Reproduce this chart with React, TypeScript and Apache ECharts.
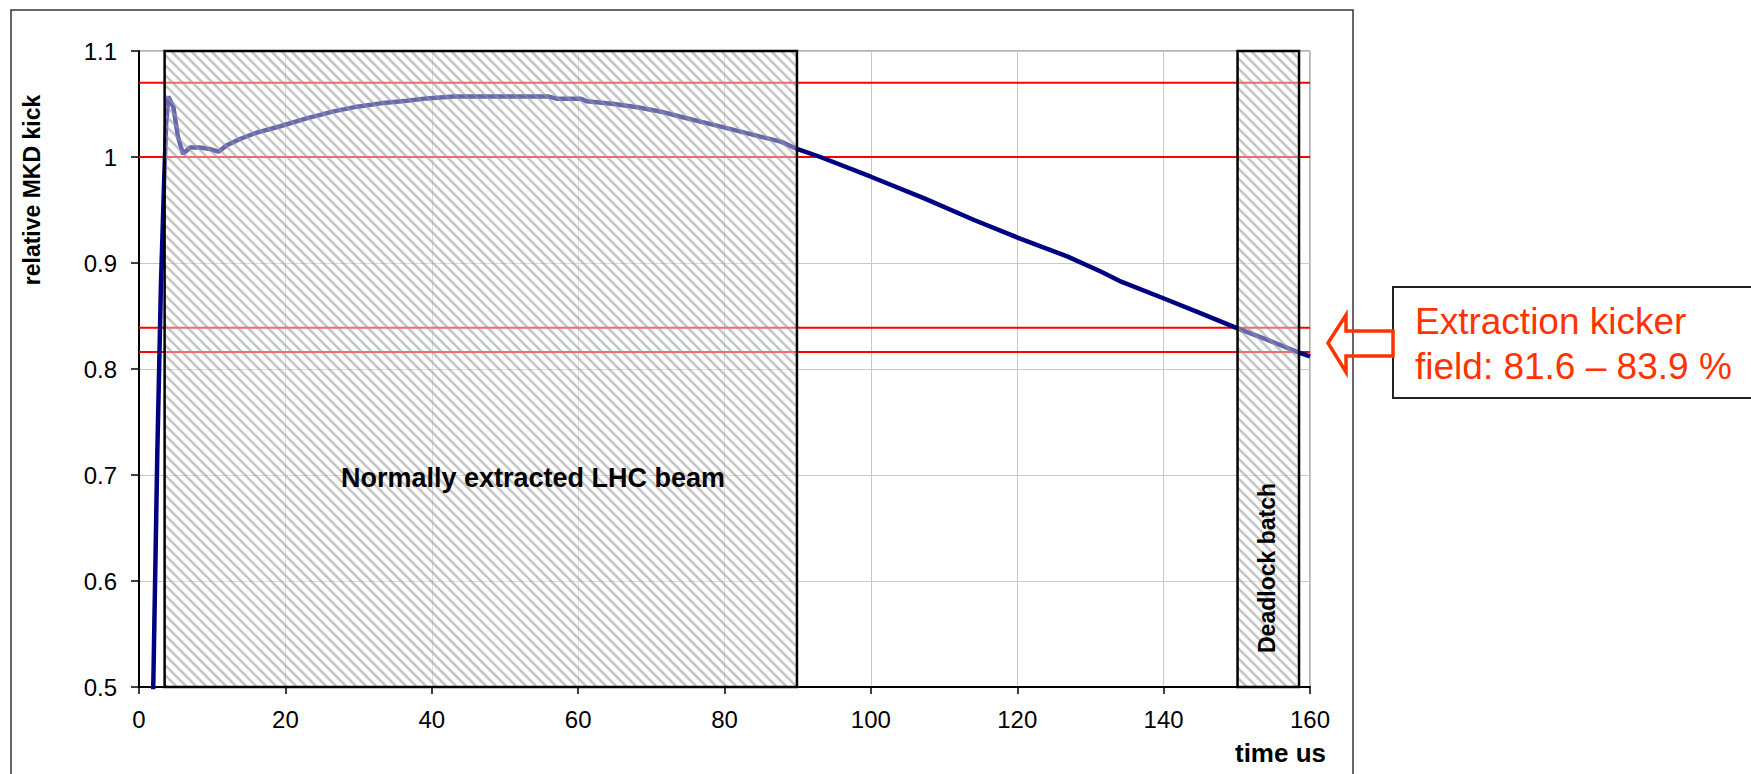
import React, { useEffect, useRef } from "react";
import * as echarts from "echarts";

// ---- data ----
const timeUs = [
  0.6, 2.0, 2.5, 3.0, 3.4, 3.7, 4.0, 4.7, 5.3, 6.0, 7.0, 8.3, 9.7, 10.85, 12.0, 13.8, 16.1, 19.3,
  22.9, 26.6, 29.8, 33.0, 36.6, 39.3, 43.0, 48.0, 52.6, 56.0, 57.1, 60.3, 61.2, 64.9, 68.1, 71.2,
  74.0, 79.5, 84.9, 87.7, 89.7, 93.1, 100, 107.3, 114.1, 120.3, 126.9, 131.4, 134.2, 140.3, 145.1,
  150.1, 154.2, 158.5, 160,
];
const relativeKick = [
  0.0, 0.52, 0.72, 0.88, 0.97, 1.03, 1.057, 1.047, 1.02, 1.003, 1.009, 1.009, 1.0075, 1.005, 1.011,
  1.017, 1.023, 1.029, 1.0365, 1.043, 1.0475, 1.0506, 1.053, 1.0553, 1.057, 1.057, 1.057, 1.057,
  1.055, 1.055, 1.0525, 1.05, 1.047, 1.043, 1.038, 1.0286, 1.0192, 1.0145, 1.0082, 1.0, 0.9814,
  0.961, 0.9406, 0.9233, 0.906, 0.892, 0.8824, 0.8658, 0.8525, 0.8384, 0.8274, 0.8154, 0.812,
];
const limitLevels = [1.07, 1.0, 0.839, 0.816];
const bandNames = ["Normally extracted LHC beam", "Deadlock batch"];
const bandStart = [3.5, 150.1];
const bandEnd = [89.9, 158.5];

const X_MIN = 0;
const X_MAX = 160;
const X_STEP = 20;
const Y_MIN = 0.5;
const Y_MAX = 1.1;
const Y_STEP = 0.1;

const FONT = '"Liberation Sans", Arial, sans-serif';

export default function App() {
  const ref = useRef<HTMLDivElement>(null);

  useEffect(() => {
    if (!ref.current) return;
    const chart = echarts.init(ref.current, undefined, { renderer: "svg" });

    const curve = timeUs.map((t, i) => [t, relativeKick[i]]);
    const limits = limitLevels.map((v) => [X_MIN, v]);
    const bands = bandStart.map((s, i) => [s, bandEnd[i]]);

    const option: any = {
      animation: false,
      backgroundColor: "#ffffff",
      grid: {
        left: 139,
        right: 441,
        top: 51,
        bottom: 87,
        show: true,
        borderColor: "#666666",
        borderWidth: 1,
        backgroundColor: "transparent",
      },
      xAxis: {
        type: "value",
        min: X_MIN,
        max: X_MAX,
        interval: X_STEP,
        axisLine: { show: true, onZero: false, lineStyle: { color: "#000", width: 2 } },
        axisTick: { show: true, inside: false, length: 7, lineStyle: { color: "#000", width: 1.5 } },
        axisLabel: { fontSize: 24, color: "#000", fontFamily: FONT, margin: 20 },
        splitLine: { show: true, lineStyle: { color: "#c8c8c8", width: 1 } },
      },
      yAxis: {
        type: "value",
        min: Y_MIN,
        max: Y_MAX,
        interval: Y_STEP,
        axisLine: { show: true, onZero: false, lineStyle: { color: "#000", width: 2 } },
        axisTick: { show: true, inside: false, length: 8, lineStyle: { color: "#000", width: 1.5 } },
        axisLabel: { fontSize: 24, color: "#000", fontFamily: FONT, margin: 22 },
        splitLine: { show: true, lineStyle: { color: "#c8c8c8", width: 1 } },
      },
      series: [
        {
          type: "custom",
          name: "limits",
          z: 1,
          silent: true,
          encode: { x: 0, y: 1 },
          data: limits,
          renderItem: (params: any, api: any) => {
            const v = api.value(1);
            const p0 = api.coord([X_MIN, v]);
            const p1 = api.coord([X_MAX, v]);
            return {
              type: "line",
              shape: { x1: p0[0], y1: p0[1], x2: p1[0], y2: p1[1] },
              style: { stroke: "#ff0000", lineWidth: 2 },
            };
          },
        },
        {
          type: "line",
          name: "relative MKD kick",
          z: 2,
          data: curve,
          showSymbol: false,
          symbol: "none",
          clip: true,
          lineStyle: { color: "#000080", width: 4.5 },
        },
        {
          type: "custom",
          name: "bands",
          z: 5,
          silent: true,
          clip: false,
          encode: { x: 0 },
          data: bands,
          renderItem: (params: any, api: any) => {
            const a = api.coord([api.value(0), Y_MAX]);
            const b = api.coord([api.value(1), Y_MIN]);
            const left = a[0];
            const top = a[1];
            const right = b[0];
            const bottom = b[1];
            const children: any[] = [];
            children.push({
              type: "rect",
              shape: { x: left, y: top, width: right - left, height: bottom - top },
              style: { fill: "rgba(255,255,255,0.4)" },
            });
            const step = 10;
            const c0 = Math.floor((top - right) / step) * step;
            for (let c = c0; c <= bottom - left; c += step) {
              const xa = Math.max(left, top - c);
              const xb = Math.min(right, bottom - c);
              if (xb > xa) {
                children.push({
                  type: "line",
                  shape: { x1: xa, y1: xa + c, x2: xb, y2: xb + c },
                  style: { stroke: "rgba(150,150,150,0.55)", lineWidth: 2.6 },
                });
              }
            }
            children.push({
              type: "rect",
              shape: { x: left, y: top, width: right - left, height: bottom - top },
              style: { fill: "none", stroke: "#000", lineWidth: 2.5 },
            });
            return { type: "group", children };
          },
        },
      ],
      graphic: [
        {
          type: "rect",
          z: 0,
          shape: { x: 11, y: 10, width: 1342, height: 800 },
          style: { fill: "none", stroke: "#333", lineWidth: 1.5 },
          silent: true,
        },
        {
          type: "text",
          x: 32,
          y: 190,
          rotation: Math.PI / 2,
          style: {
            text: "relative MKD kick",
            fontSize: 23,
            fontWeight: "bold",
            fontFamily: FONT,
            fill: "#000",
            align: "center",
            verticalAlign: "middle",
          },
        },
        {
          type: "text",
          x: 1326,
          y: 753,
          style: {
            text: "time us",
            fontSize: 26,
            fontWeight: "bold",
            fontFamily: FONT,
            fill: "#000",
            align: "right",
            verticalAlign: "middle",
          },
        },
        {
          type: "text",
          x: 533,
          y: 478,
          z: 20,
          style: {
            text: bandNames[0],
            fontSize: 27,
            fontWeight: "bold",
            fontFamily: FONT,
            fill: "#000",
            align: "center",
            verticalAlign: "middle",
          },
        },
        {
          type: "text",
          x: 1267,
          y: 568,
          z: 20,
          rotation: Math.PI / 2,
          style: {
            text: bandNames[1],
            fontSize: 23,
            fontWeight: "bold",
            fontFamily: FONT,
            fill: "#000",
            align: "center",
            verticalAlign: "middle",
          },
        },
        {
          type: "rect",
          z: 20,
          shape: { x: 1393, y: 287, width: 400, height: 111 },
          style: { fill: "#fff", stroke: "#222", lineWidth: 2 },
        },
        {
          type: "text",
          x: 1415,
          y: 321,
          z: 21,
          style: {
            text: "Extraction kicker",
            fontSize: 37,
            fontFamily: FONT,
            fill: "#ff3300",
            align: "left",
            verticalAlign: "middle",
          },
        },
        {
          type: "text",
          x: 1415,
          y: 366,
          z: 21,
          style: {
            text: "field: 81.6 – 83.9 %",
            fontSize: 37,
            fontFamily: FONT,
            fill: "#ff3300",
            align: "left",
            verticalAlign: "middle",
          },
        },
        {
          type: "polygon",
          z: 21,
          shape: {
            points: [
              [1328, 343],
              [1346, 315],
              [1346, 331],
              [1393, 331],
              [1393, 356],
              [1346, 356],
              [1346, 372],
            ],
          },
          style: { fill: "none", stroke: "#ff3300", lineWidth: 3.5, lineJoin: "miter" },
        },
      ],
    };

    chart.setOption(option);
    return () => chart.dispose();
  }, []);

  return (
    <div
      ref={ref}
      style={{ position: "absolute", left: 0, top: 0, width: 1751, height: 774, background: "#fff" }}
    />
  );
}
